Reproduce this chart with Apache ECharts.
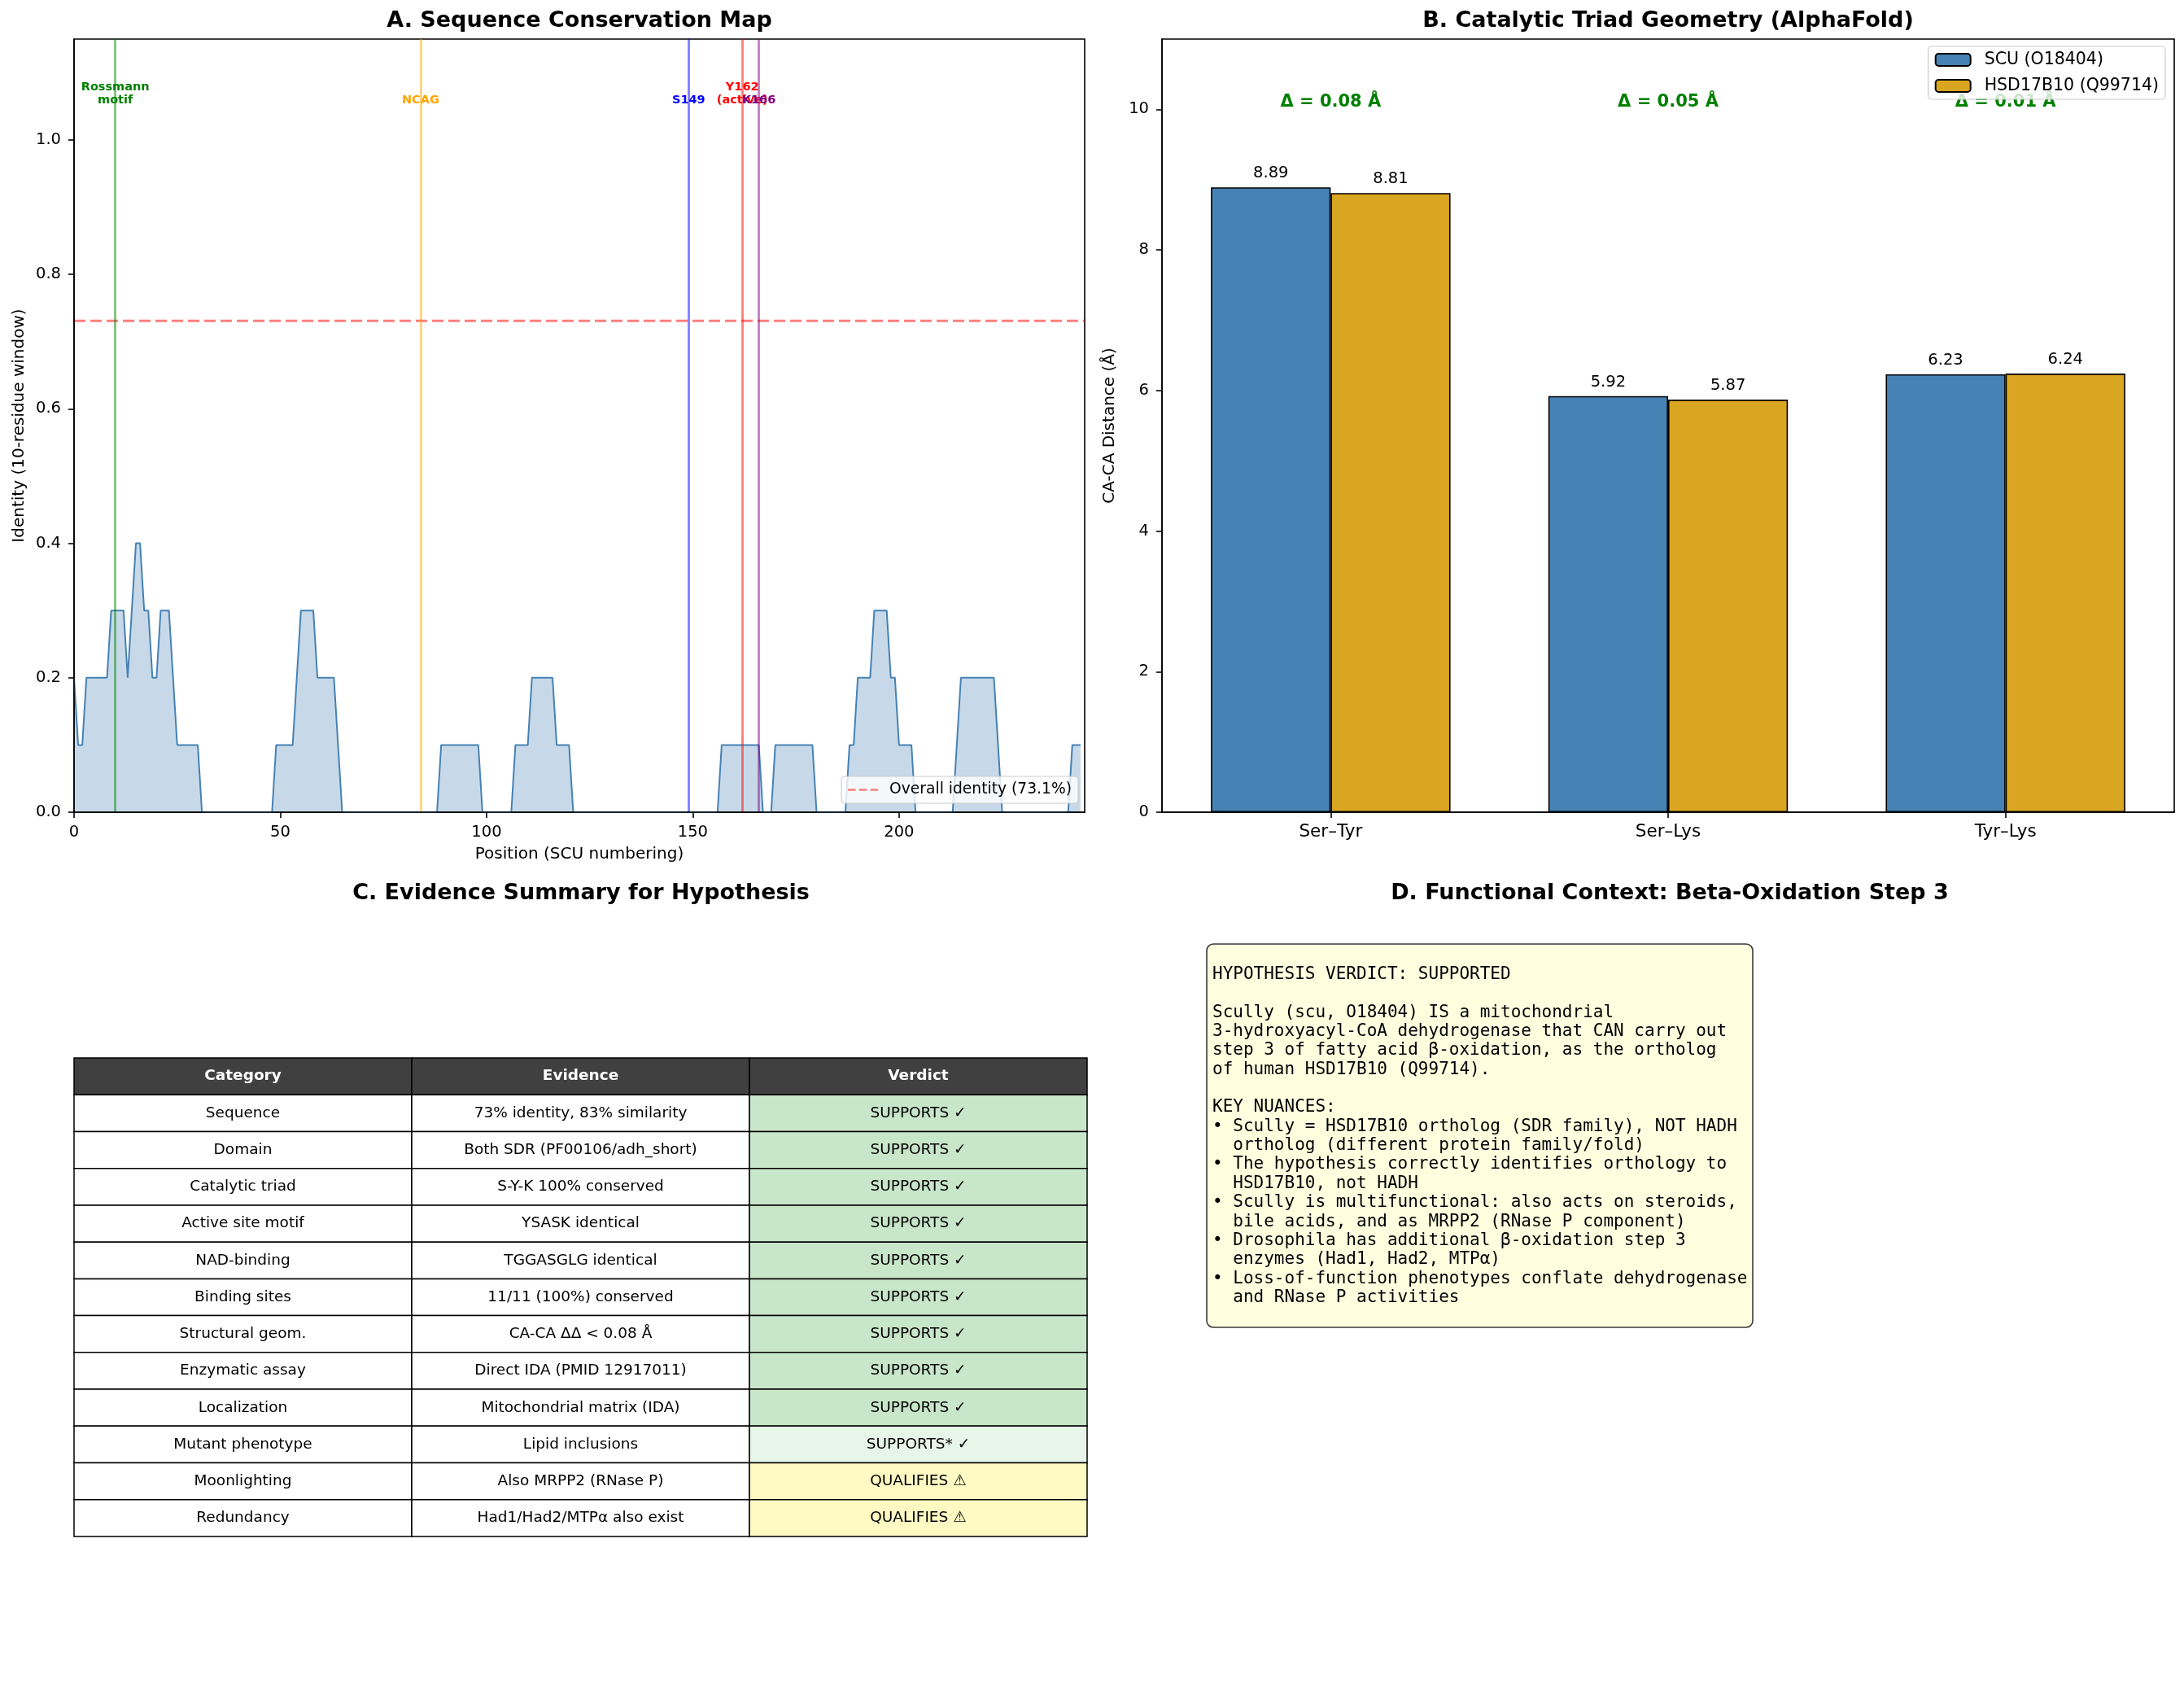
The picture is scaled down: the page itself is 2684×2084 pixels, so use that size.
<!DOCTYPE html>
<html>
<head>
<meta charset="utf-8">
<script src="https://cdn.jsdelivr.net/npm/echarts@6/dist/echarts.min.js"></script>
<style>
  html, body { margin: 0; padding: 0; background: #fff; }
  #chart { width: 2684px; height: 2084px; }
</style>
</head>
<body>
<div id="chart"></div>
<script>
// A. windowed identity (10-residue window), one value per SCU position 0..244
const identity = [
  0.2, 0.1, 0.1, 0.2, 0.2, 0.2, 0.2, 0.2, 0.2, 0.3,   // 0
  0.3, 0.3, 0.3, 0.2, 0.3, 0.4, 0.4, 0.3, 0.3, 0.2,   // 10
  0.2, 0.3, 0.3, 0.3, 0.2, 0.1, 0.1, 0.1, 0.1, 0.1,   // 20
  0.1, 0, 0, 0, 0, 0, 0, 0, 0, 0,                     // 30
  0, 0, 0, 0, 0, 0, 0, 0, 0, 0.1,                     // 40
  0.1, 0.1, 0.1, 0.1, 0.2, 0.3, 0.3, 0.3, 0.3, 0.2,   // 50
  0.2, 0.2, 0.2, 0.2, 0.1, 0, 0, 0, 0, 0,             // 60
  0, 0, 0, 0, 0, 0, 0, 0, 0, 0,                       // 70
  0, 0, 0, 0, 0, 0, 0, 0, 0, 0.1,                     // 80
  0.1, 0.1, 0.1, 0.1, 0.1, 0.1, 0.1, 0.1, 0.1, 0,     // 90
  0, 0, 0, 0, 0, 0, 0, 0.1, 0.1, 0.1,                 // 100
  0.1, 0.2, 0.2, 0.2, 0.2, 0.2, 0.2, 0.1, 0.1, 0.1,   // 110
  0.1, 0, 0, 0, 0, 0, 0, 0, 0, 0,                     // 120
  0, 0, 0, 0, 0, 0, 0, 0, 0, 0,                       // 130
  0, 0, 0, 0, 0, 0, 0, 0, 0, 0,                       // 140
  0, 0, 0, 0, 0, 0, 0, 0.1, 0.1, 0.1,                 // 150
  0.1, 0.1, 0.1, 0.1, 0.1, 0.1, 0.1, 0, 0, 0,         // 160
  0.1, 0.1, 0.1, 0.1, 0.1, 0.1, 0.1, 0.1, 0.1, 0.1,   // 170
  0, 0, 0, 0, 0, 0, 0, 0, 0.1, 0.1,                   // 180
  0.2, 0.2, 0.2, 0.2, 0.3, 0.3, 0.3, 0.3, 0.2, 0.2,   // 190
  0.1, 0.1, 0.1, 0.1, 0, 0, 0, 0, 0, 0,               // 200
  0, 0, 0, 0, 0.1, 0.2, 0.2, 0.2, 0.2, 0.2,           // 210
  0.2, 0.2, 0.2, 0.2, 0.1, 0, 0, 0, 0, 0,             // 220
  0, 0, 0, 0, 0, 0, 0, 0, 0, 0,                       // 230
  0, 0, 0.1, 0.1, 0.1                                 // 240
];
const positionMax = 245;
const overallIdentity = 0.731;
const overallLabel = 'Overall identity (73.1%)';
const siteNames = ['Rossmann\nmotif', 'NCAG', 'S149', 'Y162\n(active)', 'K166'];
const sitePositions = [10, 84, 149, 162, 166];
const siteLabelY = 1.05;
const xTicksA = [0, 50, 100, 150, 200];
const yTicksA = [0, 0.2, 0.4, 0.6, 0.8, 1.0];

// B. CA-CA distances of the catalytic triad
const pairs = ['Ser–Tyr', 'Ser–Lys', 'Tyr–Lys'];
const scuDist = [8.89, 5.92, 6.23];
const hsdDist = [8.81, 5.87, 6.24];
const deltaText = ['Δ = 0.08 Å', 'Δ = 0.05 Å', 'Δ = 0.01 Å'];
const deltaY = 10;
const yTicksB = [0, 2, 4, 6, 8, 10];

// C. evidence table
const tableHeader = ['Category', 'Evidence', 'Verdict'];
const categories = ['Sequence', 'Domain', 'Catalytic triad', 'Active site motif', 'NAD-binding',
  'Binding sites', 'Structural geom.', 'Enzymatic assay', 'Localization', 'Mutant phenotype',
  'Moonlighting', 'Redundancy'];
const evidence = ['73% identity, 83% similarity', 'Both SDR (PF00106/adh_short)', 'S-Y-K 100% conserved',
  'YSASK identical', 'TGGASGLG identical', '11/11 (100%) conserved', 'CA-CA ΔΔ < 0.08 Å',
  'Direct IDA (PMID 12917011)', 'Mitochondrial matrix (IDA)', 'Lipid inclusions',
  'Also MRPP2 (RNase P)', 'Had1/Had2/MTPα also exist'];
const verdicts = ['SUPPORTS ✓', 'SUPPORTS ✓', 'SUPPORTS ✓', 'SUPPORTS ✓', 'SUPPORTS ✓', 'SUPPORTS ✓',
  'SUPPORTS ✓', 'SUPPORTS ✓', 'SUPPORTS ✓', 'SUPPORTS* ✓', 'QUALIFIES ⚠', 'QUALIFIES ⚠'];

// D. verdict text box
const verdictLines = [
  '',
  'HYPOTHESIS VERDICT: SUPPORTED',
  '',
  'Scully (scu, O18404) IS a mitochondrial',
  '3-hydroxyacyl-CoA dehydrogenase that CAN carry out',
  'step 3 of fatty acid β-oxidation, as the ortholog',
  'of human HSD17B10 (Q99714).',
  '',
  'KEY NUANCES:',
  '• Scully = HSD17B10 ortholog (SDR family), NOT HADH',
  '  ortholog (different protein family/fold)',
  '• The hypothesis correctly identifies orthology to',
  '  HSD17B10, not HADH',
  '• Scully is multifunctional: also acts on steroids,',
  '  bile acids, and as MRPP2 (RNase P component)',
  '• Drosophila has additional β-oxidation step 3',
  '  enzymes (Had1, Had2, MTPα)',
  '• Loss-of-function phenotypes conflate dehydrogenase',
  '  and RNase P activities',
  ''
];

const FONT = 'DejaVu Sans';
const siteLineColors = ['#008000', '#FFA500', '#0000FF', '#FF0000', '#800080'];
// three dashes, used as the legend handle of the dashed reference line
const DASH_ICON = 'path://M0,0H11V3H0Z M16,0H27V3H16Z M32,0H43V3H32Z';

function verdictFill(v) {
  if (v.indexOf('SUPPORTS*') === 0) return '#E8F5E9';
  if (v.indexOf('SUPPORTS') === 0) return '#C8E6C9';
  if (v.indexOf('QUALIFIES') === 0) return '#FFF9C4';
  return '#ffffff';
}

function axisCommon(extra) {
  return Object.assign({
    z: 10,
    axisLine: { show: true, onZero: false, lineStyle: { color: '#000', width: 1.6 } },
    axisTick: { show: true, length: 7, lineStyle: { color: '#000', width: 1.6 } },
    splitLine: { show: false },
    nameTextStyle: { fontFamily: FONT, fontSize: 20, color: '#000' }
  }, extra);
}

function renderCell(params, api) {
  const c = api.value(0);
  const r = api.value(1);
  const center = api.coord([c, r]);
  const size = api.size([1, 1]);
  const cols = [categories, evidence, verdicts];
  const text = r === 0 ? tableHeader[c] : cols[c][r - 1];
  let fill = '#ffffff';
  if (r === 0) fill = '#404040';
  else if (c === 2) fill = verdictFill(text);
  return {
    type: 'group',
    children: [
      {
        type: 'rect',
        shape: { x: center[0] - size[0] / 2, y: center[1] - size[1] / 2, width: size[0], height: size[1] },
        style: { fill: fill, stroke: '#000', lineWidth: 1.5 }
      },
      {
        type: 'text',
        x: center[0], y: center[1],
        style: {
          text: text, fill: r === 0 ? '#fff' : '#000',
          fontFamily: FONT, fontSize: 18.5, fontWeight: r === 0 ? 'bold' : 'normal',
          align: 'center', verticalAlign: 'middle'
        }
      }
    ]
  };
}

const cellData = [];
for (let r = 0; r <= categories.length; r++) {
  for (let c = 0; c < tableHeader.length; c++) cellData.push([c, r]);
}

function titleText(text, x, y) {
  return {
    type: 'text', x: x, y: y,
    style: {
      text: text, fill: '#000', fontFamily: FONT, fontSize: 27, fontWeight: 'bold',
      align: 'center', verticalAlign: 'middle', textAlign: 'center', textVerticalAlign: 'middle'
    }
  };
}

const chart = echarts.init(document.getElementById('chart'), null, { renderer: 'canvas' });

chart.setOption({
  animation: false,
  backgroundColor: '#ffffff',
  textStyle: { fontFamily: FONT },
  grid: [
    { left: 91, top: 48, width: 1242, height: 950, show: true, borderColor: '#000', borderWidth: 1.6, outerBoundsMode: 'none' },
    { left: 1428, top: 48, width: 1244, height: 950, show: true, borderColor: '#000', borderWidth: 1.6, outerBoundsMode: 'none' },
    { left: 91, top: 1300, width: 1245, height: 588, outerBoundsMode: 'none' }
  ],
  xAxis: [
    axisCommon({
      type: 'value', gridIndex: 0, min: 0, max: positionMax,
      name: 'Position (SCU numbering)', nameLocation: 'middle', nameGap: 42,
      axisTick: { show: true, length: 7, customValues: xTicksA, lineStyle: { color: '#000', width: 1.6 } },
      axisLabel: { customValues: xTicksA, margin: 15, fontSize: 19.5, color: '#000', fontFamily: FONT }
    }),
    axisCommon({
      type: 'category', gridIndex: 1, data: pairs,
      axisTick: { show: true, length: 7, alignWithLabel: true, lineStyle: { color: '#000', width: 1.6 } },
      axisLabel: { margin: 13, fontSize: 21.5, color: '#000', fontFamily: FONT }
    }),
    { type: 'category', gridIndex: 2, data: tableHeader, show: false }
  ],
  yAxis: [
    axisCommon({
      type: 'value', gridIndex: 0, min: 0, max: 1.15,
      name: 'Identity (10-residue window)', nameLocation: 'middle', nameGap: 57,
      axisTick: { show: true, length: 7, customValues: yTicksA, lineStyle: { color: '#000', width: 1.6 } },
      axisLabel: { customValues: yTicksA, margin: 16, fontSize: 19.5, color: '#000', fontFamily: FONT,
        formatter: v => v.toFixed(1) }
    }),
    axisCommon({
      type: 'value', gridIndex: 1, min: 0, max: 11,
      name: 'CA-CA Distance (Å)', nameLocation: 'middle', nameGap: 54,
      axisTick: { show: true, length: 7, customValues: yTicksB, lineStyle: { color: '#000', width: 1.6 } },
      axisLabel: { customValues: yTicksB, margin: 16, fontSize: 19.5, color: '#000', fontFamily: FONT }
    }),
    { type: 'category', gridIndex: 2, data: ['header'].concat(categories), inverse: true, show: false }
  ],
  legend: [
    {
      data: [{ name: overallLabel, icon: DASH_ICON, itemStyle: { color: 'rgba(255,0,0,0.5)' } }],
      right: 2684 - 1325, top: 954, orient: 'vertical',
      backgroundColor: 'rgba(255,255,255,0.8)', borderColor: '#cccccc', borderWidth: 1.2, borderRadius: 4,
      padding: [7, 8, 7, 8], itemWidth: 37, itemHeight: 3,
      textStyle: { fontFamily: FONT, fontSize: 18.7, color: '#000', padding: [0, 0, 0, 9] }
    },
    {
      data: ['SCU (O18404)', 'HSD17B10 (Q99714)'],
      right: 2684 - 2661, top: 57, orient: 'vertical', itemGap: 11,
      backgroundColor: 'rgba(255,255,255,0.8)', borderColor: '#cccccc', borderWidth: 1.2, borderRadius: 4,
      padding: [6, 8, 6, 8], itemWidth: 43, itemHeight: 15,
      textStyle: { fontFamily: FONT, fontSize: 20.5, color: '#000', padding: [0, 0, 0, 12] }
    }
  ],
  series: [
    {
      name: 'Identity', type: 'line', xAxisIndex: 0, yAxisIndex: 0, z: 2,
      data: identity.map((v, i) => [i, v]),
      symbol: 'none', silent: true,
      lineStyle: { color: '#4682B4', width: 2 },
      itemStyle: { color: '#4682B4' },
      areaStyle: { color: '#4682B4', opacity: 0.3 },
      markLine: {
        silent: true, symbol: ['none', 'none'], label: { show: false },
        data: sitePositions.map((p, i) => ({
          xAxis: p,
          lineStyle: { color: siteLineColors[i], opacity: 0.5, width: 2.8, type: 'solid' }
        }))
      }
    },
    {
      name: overallLabel, type: 'line', xAxisIndex: 0, yAxisIndex: 0,
      data: [[0, overallIdentity], [positionMax, overallIdentity]],
      symbol: 'none', silent: true,
      lineStyle: { color: 'rgba(255,0,0,0.5)', width: 3, type: [14, 6] },
      itemStyle: { color: 'rgba(255,0,0,0.5)' }
    },
    {
      name: 'sites', type: 'scatter', xAxisIndex: 0, yAxisIndex: 0,
      symbolSize: 0, silent: true, itemStyle: { opacity: 1 },
      data: sitePositions.map((p, i) => ({
        value: [p, siteLabelY],
        label: { formatter: siteNames[i], color: siteLineColors[i] }
      })),
      label: {
        show: true, position: 'top', distance: -1, fontFamily: FONT, fontSize: 14.5,
        fontWeight: 'bold', lineHeight: 16.5, align: 'center', opacity: 1
      }
    },
    {
      name: 'SCU (O18404)', type: 'bar', xAxisIndex: 1, yAxisIndex: 1,
      data: scuDist, barGap: '0%', barCategoryGap: '29%',
      itemStyle: { color: '#4682B4', borderColor: '#000', borderWidth: 1.6 },
      label: { show: true, position: 'top', distance: 7, fontFamily: FONT, fontSize: 19.5, color: '#000',
        formatter: p => p.value.toFixed(2) }
    },
    {
      name: 'HSD17B10 (Q99714)', type: 'bar', xAxisIndex: 1, yAxisIndex: 1,
      data: hsdDist, barGap: '0%', barCategoryGap: '29%',
      itemStyle: { color: '#DAA520', borderColor: '#000', borderWidth: 1.6 },
      label: { show: true, position: 'top', distance: 7, fontFamily: FONT, fontSize: 19.5, color: '#000',
        formatter: p => p.value.toFixed(2) }
    },
    {
      name: 'deltas', type: 'scatter', xAxisIndex: 1, yAxisIndex: 1,
      symbolSize: 0, silent: true, itemStyle: { opacity: 1 },
      data: pairs.map((p, i) => ({ value: [i, deltaY], label: { formatter: deltaText[i] } })),
      label: { show: true, position: 'top', distance: -2, fontFamily: FONT, fontSize: 21,
        fontWeight: 'bold', color: '#008000', opacity: 1 }
    },
    {
      name: 'table', type: 'custom', xAxisIndex: 2, yAxisIndex: 2,
      silent: true, data: cellData, renderItem: renderCell
    }
  ],
  graphic: [
    titleText('A. Sequence Conservation Map', 712, 26),
    titleText('B. Catalytic Triad Geometry (AlphaFold)', 2050, 26),
    titleText('C. Evidence Summary for Hypothesis', 714, 1098),
    titleText('D. Functional Context: Beta-Oxidation Step 3', 2052, 1098),
    {
      type: 'rect',
      shape: { x: 1483, y: 1160, width: 671, height: 471, r: 8 },
      style: { fill: '#FFFFE0', stroke: '#3a3a3a', lineWidth: 1.6 }
    },
    {
      type: 'text', x: 1490, y: 1162.5,
      style: {
        text: verdictLines.join('\n'), fill: '#000',
        fontFamily: 'DejaVu Sans Mono', fontSize: 21, lineHeight: 23.35,
        align: 'left', verticalAlign: 'top', textAlign: 'left', textVerticalAlign: 'top'
      }
    }
  ]
});
</script>
</body>
</html>
